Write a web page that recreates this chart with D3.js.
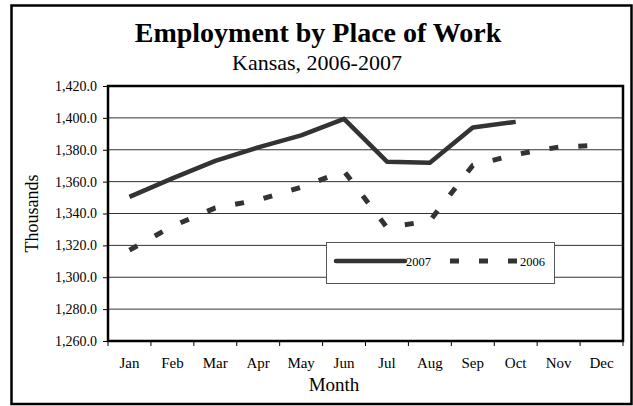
<!DOCTYPE html>
<html>
<head>
<meta charset="utf-8">
<script src="https://cdn.jsdelivr.net/npm/d3@7"></script>
<style>
  body { margin: 0; background: #fff; }
  text { font-family: "Liberation Serif", "Times New Roman", serif; fill: #000; }
</style>
</head>
<body>
<div id="chart"></div>
<script>
const months = ["Jan", "Feb", "Mar", "Apr", "May", "Jun", "Jul", "Aug", "Sep", "Oct", "Nov", "Dec"];
const values2007 = [1350.4, 1362.0, 1373.0, 1381.5, 1389.0, 1399.4, 1372.5, 1371.8, 1394.0, 1397.5];
const values2006 = [1317.0, 1332.0, 1343.5, 1348.5, 1356.5, 1366.6, 1331.2, 1335.4, 1370.2, 1377.0, 1381.7, 1382.9];
const yTicks = [1260, 1280, 1300, 1320, 1340, 1360, 1380, 1400, 1420];

const width = 633, height = 406;
const plot = {left: 108, right: 623, top: 86, bottom: 341};

const svg = d3.select("#chart").append("svg")
    .attr("width", width)
    .attr("height", height);

// outer frame
svg.append("rect")
    .attr("x", 11.5).attr("y", 5.5)
    .attr("width", 620).attr("height", 398.5)
    .attr("fill", "none")
    .attr("stroke", "#000")
    .attr("stroke-width", 2.5);

const x = d3.scaleBand().domain(months).range([plot.left, plot.right]);
const y = d3.scaleLinear().domain([1260, 1420]).range([plot.bottom, plot.top]);

// gridlines
svg.append("g")
    .selectAll("line")
    .data(yTicks.slice(1, -1))
    .join("line")
        .attr("x1", plot.left).attr("x2", plot.right)
        .attr("y1", d => y(d)).attr("y2", d => y(d))
        .attr("stroke", "#333")
        .attr("stroke-width", 1);

// y axis
const yAxis = svg.append("g")
    .attr("transform", "translate(" + plot.left + ",0)")
    .call(d3.axisLeft(y).tickValues(yTicks).tickSize(5).tickPadding(6)
        .tickFormat(d => d3.format(",.1f")(d)));
yAxis.attr("font-family", null);
yAxis.select(".domain").remove();
yAxis.selectAll("line").attr("stroke", "#000");
yAxis.selectAll("text")
    .style("font-family", "'Liberation Serif', serif")
    .style("font-size", "14px");

// x axis ticks at band boundaries
const xAxis = svg.append("g")
    .attr("transform", "translate(0," + plot.bottom + ")");
xAxis.selectAll("line")
    .data(months.concat(["end"]))
    .join("line")
        .attr("x1", (d, i) => plot.left + i * x.step())
        .attr("x2", (d, i) => plot.left + i * x.step())
        .attr("y1", 0).attr("y2", 5)
        .attr("stroke", "#000");
xAxis.selectAll("text")
    .data(months)
    .join("text")
        .attr("x", d => x(d) + x.bandwidth() / 2)
        .attr("y", 27)
        .attr("text-anchor", "middle")
        .style("font-size", "15px")
        .text(d => d);

// plot border
svg.append("rect")
    .attr("x", plot.left).attr("y", plot.top)
    .attr("width", plot.right - plot.left)
    .attr("height", plot.bottom - plot.top)
    .attr("fill", "none")
    .attr("stroke", "#000")
    .attr("stroke-width", 2.5);

// lines
const line = d3.line()
    .x((d, i) => x(months[i]) + x.bandwidth() / 2)
    .y(d => y(d));

svg.append("path")
    .datum(values2006)
    .attr("d", line)
    .attr("fill", "none")
    .attr("stroke", "#333")
    .attr("stroke-width", 5)
    .attr("stroke-dasharray", "9,20");

svg.append("path")
    .datum(values2007)
    .attr("d", line)
    .attr("fill", "none")
    .attr("stroke", "#333")
    .attr("stroke-width", 4.5)
    .attr("stroke-linejoin", "round");

// legend
const legend = svg.append("g");
legend.append("rect")
    .attr("x", 326.5).attr("y", 242.5)
    .attr("width", 228).attr("height", 41)
    .attr("fill", "#fff")
    .attr("stroke", "#555")
    .attr("stroke-width", 1);
legend.append("line")
    .attr("x1", 336).attr("x2", 405)
    .attr("y1", 261).attr("y2", 261)
    .attr("stroke", "#333")
    .attr("stroke-width", 4.5)
    .attr("stroke-linecap", "round");
legend.append("text")
    .attr("x", 406).attr("y", 265.5)
    .style("font-size", "12.5px")
    .text("2007");
legend.append("line")
    .attr("x1", 450).attr("x2", 518)
    .attr("y1", 261).attr("y2", 261)
    .attr("stroke", "#333")
    .attr("stroke-width", 5)
    .attr("stroke-dasharray", "9,20");
legend.append("text")
    .attr("x", 520).attr("y", 265.5)
    .style("font-size", "12.5px")
    .text("2006");

// titles
svg.append("text")
    .attr("x", 318).attr("y", 42)
    .attr("text-anchor", "middle")
    .style("font-size", "28px")
    .style("font-weight", "bold")
    .text("Employment by Place of Work");

svg.append("text")
    .attr("x", 317).attr("y", 69.5)
    .attr("text-anchor", "middle")
    .style("font-size", "22px")
    .text("Kansas, 2006-2007");

svg.append("text")
    .attr("x", 334).attr("y", 391)
    .attr("text-anchor", "middle")
    .style("font-size", "19px")
    .text("Month");

svg.append("text")
    .attr("transform", "translate(38," + ((plot.top + plot.bottom) / 2) + ") rotate(-90)")
    .attr("text-anchor", "middle")
    .style("font-size", "18px")
    .text("Thousands");
</script>
</body>
</html>
